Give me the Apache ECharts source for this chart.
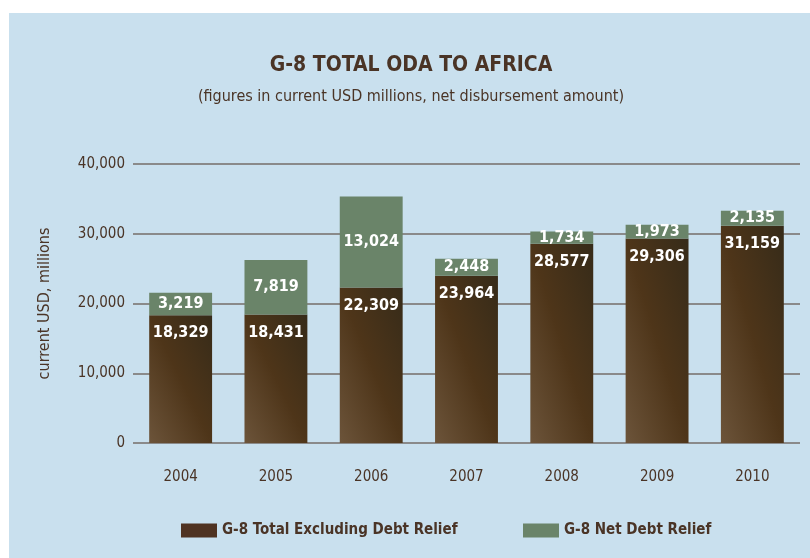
<!DOCTYPE html>
<html>
<head>
<meta charset="utf-8">
<script src="https://cdn.jsdelivr.net/npm/echarts@6/dist/echarts.min.js"></script>
<style>
html,body{margin:0;padding:0;background:#fff;}
#c{width:810px;height:558px;}
</style>
</head>
<body>
<div id="c"></div>
<script>
var years = ['2004','2005','2006','2007','2008','2009','2010'];
var excludingDebtRelief = [18329, 18431, 22309, 23964, 28577, 29306, 31159];
var netDebtRelief = [3219, 7819, 13024, 2448, 1734, 1973, 2135];
var yTicks = [0, 10000, 20000, 30000, 40000];

var FONT = '"Liberation Sans Narrow", "DejaVu Sans Condensed", "Noto Sans", sans-serif';
var TXT = '#4a3426';
function fmt(v){ return String(v).replace(/\B(?=(\d{3})+(?!\d))/g, ','); }

// diagonal gradient: light bottom-left, dark top-right, iso-line through the other two corners
var PLOT_H = 279, Y_MAX = 40000, BAR_W = 63;
function barGradient(v){
  var h = Math.max(v * PLOT_H / Y_MAX, 1), w = BAR_W;
  var L2 = h * h + w * w, k = 2 * w * h / L2;
  return new echarts.graphic.LinearGradient(0, 1, k * h / w, 1 - k * w / h, [
    {offset: 0, color: '#6c543a'},
    {offset: 0.5, color: '#4e3519'},
    {offset: 1, color: '#362b19'}
  ]);
}

var chart = echarts.init(document.getElementById('c'));
chart.setOption({
  backgroundColor: '#ffffff',
  animation: false,
  graphic: [{
    type: 'rect', z: -10, silent: true,
    shape: {x: 9, y: 13, width: 801, height: 545},
    style: {fill: '#c9e0ee'}
  }],
  title: {
    text: 'G-8 TOTAL ODA TO AFRICA',
    subtext: '(figures in current USD millions, net disbursement amount)',
    left: 406, textAlign: 'center', top: 50,
    textStyle: {fontFamily: FONT, fontSize: 21, fontWeight: 'bold', color: TXT},
    subtextStyle: {fontFamily: FONT, fontSize: 16, color: TXT},
    itemGap: 13
  },
  legend: [{
    data: ['G-8 Total Excluding Debt Relief'],
    left: 181, top: 523, itemWidth: 36, itemHeight: 14, padding: 0, itemGap: 0,
    icon: 'rect',
    textStyle: {fontFamily: FONT, fontSize: 15, fontWeight: 'bold', color: TXT}
  },{
    data: ['G-8 Net Debt Relief'],
    left: 523, top: 523, itemWidth: 36, itemHeight: 14, padding: 0, itemGap: 0,
    icon: 'rect',
    textStyle: {fontFamily: FONT, fontSize: 15, fontWeight: 'bold', color: TXT}
  }],
  grid: {left: 133, right: 10, top: 164, bottom: 115, containLabel: false},
  xAxis: {
    type: 'category', data: years,
    axisLine: {show: false}, axisTick: {show: false},
    axisLabel: {fontFamily: FONT, fontSize: 15, color: TXT, margin: 27}
  },
  yAxis: {
    type: 'value', min: 0, max: Y_MAX, interval: 10000,
    name: 'current USD, millions', nameLocation: 'middle', nameGap: 80,
    nameTextStyle: {fontFamily: FONT, fontSize: 16, color: TXT},
    axisLine: {show: false}, axisTick: {show: false},
    axisLabel: {fontFamily: FONT, fontSize: 15, color: TXT, margin: 8,
      formatter: function(v){ return yTicks.indexOf(v) >= 0 ? fmt(v) : ''; }},
    splitLine: {lineStyle: {color: '#8a8a8a', width: 2}}
  },
  series: [{
    name: 'G-8 Total Excluding Debt Relief',
    type: 'bar', stack: 'oda', barWidth: '66%',
    data: excludingDebtRelief.map(function(v){
      return {value: v, itemStyle: {color: barGradient(v)}};
    }),
    color: '#4f3322',
    label: {show: true, position: 'insideTop', distance: 10,
      fontFamily: FONT, fontSize: 16, fontWeight: 'bold', color: '#ffffff',
      formatter: function(p){ return fmt(p.value); }}
  },{
    name: 'G-8 Net Debt Relief',
    type: 'bar', stack: 'oda', barWidth: '66%',
    data: netDebtRelief,
    color: '#6a8469',
    itemStyle: {color: '#6a8469'},
    label: {show: true, position: 'inside',
      fontFamily: FONT, fontSize: 16, fontWeight: 'bold', color: '#ffffff',
      formatter: function(p){ return fmt(p.value); }}
  }]
});
</script>
</body>
</html>
